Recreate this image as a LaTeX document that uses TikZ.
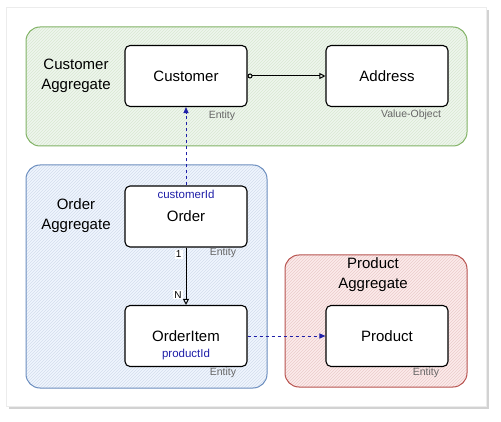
\documentclass[tikz,border=0pt]{standalone}
\usepackage{fontspec}
\setmainfont{Liberation Sans}
\usetikzlibrary{arrows.meta,patterns,positioning}
\definecolor{grnline}{HTML}{82B366}
\definecolor{grnfill}{HTML}{D5E8D4}
\definecolor{bluline}{HTML}{6C8EBF}
\definecolor{blufill}{HTML}{DAE8FC}
\definecolor{redline}{HTML}{B85450}
\definecolor{redfill}{HTML}{F8CECC}
\definecolor{idblue}{HTML}{1F1FA8}
\definecolor{taggray}{HTML}{666666}

\begin{document}
\begin{tikzpicture}[x=1pt,y=-1pt,
  aggr/.style={draw=#1line,line width=1pt,rounded corners=14pt,
    preaction={fill=#1fill!40},pattern=north east lines,pattern color=#1line!30},
  entity/.style={draw=black,line width=1.1pt,fill=white,rounded corners=5pt,
    minimum width=122pt,minimum height=61pt,font=\fontsize{15}{17}\selectfont},
  aggrlabel/.style={align=center,font=\fontsize{15}{20}\selectfont},
  tag/.style={text=taggray,font=\fontsize{10.5}{12}\selectfont,inner sep=1pt},
  idlabel/.style={text=idblue,font=\fontsize{11.5}{13}\selectfont,inner sep=1pt},
  mult/.style={fill=white,font=\fontsize{10}{12}\selectfont,inner sep=1pt},
  refline/.style={idblue,line width=1pt,dashed,-{Triangle[length=6pt,width=5pt]}},
  assoc/.style={black,line width=1pt,-{Triangle[open,length=6pt,width=6pt]}}]
\useasboundingbox (0,0) rectangle (501,422);
\fill[gray!35] (9,10) rectangle (489,409);
\draw[gray!15,fill=white] (6,7) rectangle (486,406);

\draw[aggr=grn] (26,27) rectangle (467,146);
\draw[aggr=blu] (26,165) rectangle (267,388);
\draw[aggr=red] (285,255) rectangle (467,387);

\node[aggrlabel] (custagg) at (76,76) {Customer\\Aggregate};
\node[aggrlabel] (ordagg) at (76,216) {Order\\Aggregate};
\node[aggrlabel] (prodagg) at (373,275) {Product\\Aggregate};

\node[entity] (customer) at (186,76) {Customer};
\node[entity] (address) at (387,76) {Address};
\node[entity] (order) at (186,216.5) {Order};
\node[entity] (orderitem) at (186,336) {OrderItem};
\node[entity] (product) at (387,336) {Product};

\node[idlabel] (custid) at (186,194) {customerId};
\node[idlabel] (prodid) at (186,355) {productId};

\node[tag] (custtag) at (222,116) {Entity};
\node[tag] (addrtag) at (411,115) {Value-Object};
\node[tag] (ordtag) at (223,253) {Entity};
\node[tag] (itemtag) at (223,373) {Entity};
\node[tag] (prodtag) at (426,373) {Entity};

\draw[assoc,{Circle[open,length=5pt]}-{Triangle[open,length=6pt,width=6pt]}] (customer) -- (address);
\draw[refline] (order) -- (customer);
\draw[refline] (orderitem) -- (product);
\draw[assoc] (order) -- (orderitem)
  node[mult,pos=0.12,left=3pt] (one) {1}
  node[mult,pos=0.82,left=3pt] (many) {N};
\end{tikzpicture}
\end{document}
